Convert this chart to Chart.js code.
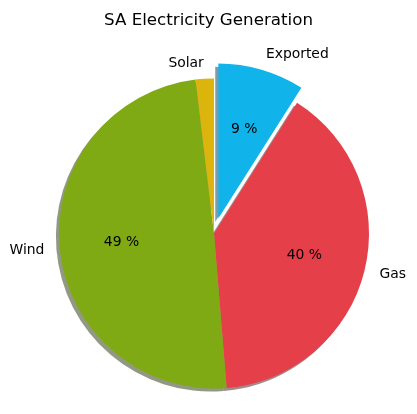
<!DOCTYPE html>
<html>
<head>
<meta charset="utf-8">
<script src="https://cdn.jsdelivr.net/npm/chart.js@4.4.1/dist/chart.umd.min.js"></script>
<style>
  html, body { margin: 0; padding: 0; background: #ffffff; }
  #wrap { width: 417px; height: 414px; position: relative; }
</style>
</head>
<body>
<div id="wrap"><canvas id="c"></canvas></div>
<script>
const titleText = 'SA Electricity Generation';
const labels = ['Solar', 'Wind', 'Gas', 'Exported'];
const values = [1.9, 49.4, 39.7, 9.0];
const colors = ['#DBB40C', '#80AA14', '#E5404A', '#10B4EA'];
const explode = [0, 0, 0, 0.1];

// matplotlib draws counter-clockwise from the top; Chart.js clockwise -> reverse order
const order = labels.map((_, i) => labels.length - 1 - i);
const total = values.reduce((a, b) => a + b, 0);

function shadowColor(hex) {
  const n = parseInt(hex.slice(1), 16);
  const r = (n >> 16) & 255, g = (n >> 8) & 255, b = n & 255;
  return `rgba(${Math.round(r * 0.3)},${Math.round(g * 0.3)},${Math.round(b * 0.3)},0.5)`;
}

const pieExtras = {
  id: 'pieExtras',
  afterDatasetUpdate(chart, args) {
    args.meta.data.forEach((arc, i) => {
      const f = explode[order[i]];
      if (f) {
        const mid = (arc.startAngle + arc.endAngle) / 2;
        arc.x += Math.cos(mid) * f * arc.outerRadius;
        arc.y += Math.sin(mid) * f * arc.outerRadius;
      }
    });
  },
  beforeDatasetsDraw(chart) {
    const ctx = chart.ctx;
    const meta = chart.getDatasetMeta(0);
    ctx.save();
    meta.data.forEach((arc, i) => {
      const R = arc.outerRadius;
      const x = arc.x - 0.02 * R, y = arc.y + 0.02 * R;
      ctx.beginPath();
      ctx.moveTo(x, y);
      ctx.arc(x, y, R, arc.startAngle, arc.endAngle);
      ctx.closePath();
      ctx.fillStyle = shadowColor(colors[order[i]]);
      ctx.fill();
    });
    ctx.restore();
  },
  afterDatasetsDraw(chart) {
    const ctx = chart.ctx;
    const meta = chart.getDatasetMeta(0);
    ctx.save();
    ctx.fillStyle = '#000000';
    ctx.textBaseline = 'middle';
    meta.data.forEach((arc, i) => {
      const src = order[i];
      const R = arc.outerRadius;
      const mid = (arc.startAngle + arc.endAngle) / 2;
      const c = Math.cos(mid), s = Math.sin(mid);
      ctx.font = '13.9px "DejaVu Sans"';
      ctx.textAlign = c > 0 ? 'left' : 'right';
      ctx.fillText(labels[src], arc.x + 1.1 * R * c, arc.y + 1.1 * R * s);
      const pct = values[src] / total * 100;
      if (pct >= 3) {
        ctx.textAlign = 'center';
        ctx.fillText(Math.round(pct) + ' %', arc.x + 0.6 * R * c, arc.y + 0.6 * R * s);
      }
    });
    // title
    ctx.font = '16.7px "DejaVu Sans"';
    ctx.textAlign = 'center';
    ctx.textBaseline = 'alphabetic';
    ctx.fillText(titleText, 208.5, 24.5);
    ctx.restore();
  }
};

new Chart(document.getElementById('c'), {
  type: 'pie',
  data: {
    labels: order.map(i => labels[i]),
    datasets: [{
      data: order.map(i => values[i]),
      backgroundColor: order.map(i => colors[i]),
      borderWidth: 0,
      radius: 155
    }]
  },
  options: {
    responsive: true,
    maintainAspectRatio: false,
    animation: false,
    events: [],
    layout: { padding: { left: 20, right: 9, top: 60, bottom: 7 } },
    plugins: {
      legend: { display: false },
      title: { display: false },
      tooltip: { enabled: false }
    }
  },
  plugins: [pieExtras]
});
</script>
</body>
</html>
